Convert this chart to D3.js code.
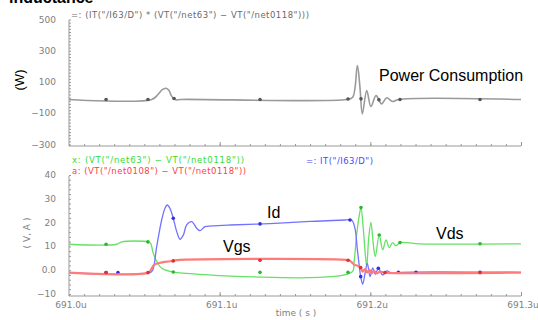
<!DOCTYPE html>
<html>
<head>
<meta charset="utf-8">
<script src="https://cdn.jsdelivr.net/npm/d3@7"></script>
<style>
  body { margin: 0; background: #fff; }
  svg { display: block; }
</style>
</head>
<body>
<div id="chart"></div>
<script>
/// DATA (time in ns after 691.0u)
let powerT = [0, 54.9, 59.1, 61.7, 64.4, 66.4, 67.9, 69.2, 71.5, 73.7, 184.3, 188.3, 191.4, 193.1, 194.7, 197.6, 200.4, 203.8, 207.5, 210.9, 214.8, 218.6, 300];
let powerW = [-12, -12, 20, 49, 60, 45, 13, -3, -15, -12, -12, 2.5, 205, 67, -104, 45, -57, 13, -40, -1, -25, -12, -12];

let vdsT = [0, 31.7, 35.0, 52.6, 54.2, 55.6, 57.7, 60.4, 63.7, 68.2, 70.4, 187.6, 189.2, 190.9, 192.7, 193.8, 195.3, 196.7, 197.6, 198.9, 200.4, 202.0, 203.3, 205.9, 208.2, 210.4, 212.6, 214.8, 217.0, 219.7, 233.0, 300];
let vdsV = [10.9, 10.9, 11.9, 11.9, 11.3, 7.8, 4.3, 1.5, 0.1, -0.6, -0.9, -0.9, 3.6, 14.8, 23.2, 26.3, 17.6, 6.4, 1.5, 13.4, 20.1, 10.6, 5.7, 14.8, 8.5, 12.7, 9.5, 11.6, 10.3, 11.6, 11.1, 11.1];

let idT = [0, 53.8, 55.6, 58.2, 61.5, 63.7, 65.2, 67.0, 69.2, 71.5, 73.7, 75.9, 78.1, 81.4, 84.8, 86.9, 90.2, 94.7, 106.9, 133.4, 160.0, 183.2, 187.6, 189.8, 191.3, 192.7, 193.6, 194.9, 196.5, 198.0, 199.8, 201.6, 203.3, 205.3, 208.2, 210.9, 214.2, 218.6, 300];
let idA = [-1, -1, 0.1, 9.9, 21.1, 26, 27.4, 26, 21.8, 16.2, 13, 14.8, 19, 20.4, 17.6, 16.6, 18.3, 18.6, 19, 19.6, 20.5, 21.1, 21.1, 17.6, 9.2, 1.5, -2.7, -5.9, -1.3, 2.9, -2.7, 1.0, -1.7, 0.8, -2.0, -0.3, -1.3, -0.9, -0.9];

let vgsT = [0, 52.6, 54.9, 56.4, 59.3, 64.8, 69.2, 71.5, 185.4, 186.5, 189.8, 192.0, 193.6, 194.9, 196.5, 198.0, 199.3, 200.9, 202.4, 204.2, 206.4, 209.7, 300];
let vgsV = [-1, -1, 0.8, 2.2, 2.9, 3.6, 3.9, 4.2, 4.2, 3.9, 2.2, 1.8, 1.1, -0.6, 0.5, -0.9, 0.1, -1.3, -0.3, -1.3, -0.6, -1, -1];

// marker times on each trace
let powerMarks = [24.6, 52.4, 69.7, 126.8, 185.2, 193.8, 205.7, 219.7, 272.8];
let vdsMarks = [24.6, 52.4, 69.2, 126.8, 185.2, 193.8, 205.9, 219.7, 272.8];
let vgsMarks = [24.6, 52.4, 69.2, 126.8, 185.2, 193.6, 209.7, 272.8];
let idMarks = [24.6, 32.5, 69.2, 126.8, 186.5, 193.6, 205.3, 218.6, 230.3, 272.8];

let timeTicks = [0, 100, 200, 300];
let timeLabels = ['691.0u', '691.1u', '691.2u', '691.3u'];
let powerTicks = [500, 300, 100, -100, -300];
let powerLabels = ['500', '300', '100', '\u2212100', '\u2212300'];
let vaTicks = [40, 30, 20, 10, 0, -10];
let vaLabels = ['40', '30', '20', '10', '0.0', '\u221210'];

let width = 538, height = 320;
let font = 'DejaVu Sans, sans-serif';
let axisGrey = '#999', labelGrey = '#808080';

/// SETUP scales
let x = d3.scaleLinear().domain([0, 300]).range([69, 521]);
let yTop = d3.scaleLinear().domain([-300, 500]).range([144.5, 19.5]);
let yBot = d3.scaleLinear().domain([-10, 40]).range([294, 175]);

/// CREATE SVG
let svg = d3.select('#chart')
  .append('svg')
  .attr('width', width)
  .attr('height', height)
  .style('background', '#fff');

// heading cut by the top edge, as in the source image
svg.append('text')
  .attr('x', 9).attr('y', 2.5)
  .style('font-family', 'Liberation Sans, Arial, sans-serif')
  .style('font-weight', 'bold')
  .style('font-size', '16px')
  .text('inductance');

/// AXES
function drawFrame(yScale, yTicks, yLabels, minorStep, bottomY, topY, showLabels) {
  let g = svg.append('g');
  // y axis: ticks point inside
  let yAx = d3.axisRight(yScale)
    .tickValues(d3.range(yScale.domain()[0], yScale.domain()[1] + 0.001, minorStep))
    .tickSize(2).tickFormat('');
  g.append('g').attr('transform', 'translate(69,0)').call(yAx)
    .call(s => s.select('.domain').remove())
    .call(s => s.selectAll('line').attr('stroke', axisGrey));
  g.append('line')
    .attr('x1', 69).attr('x2', 69).attr('y1', topY).attr('y2', bottomY)
    .attr('stroke', axisGrey);
  g.selectAll('.ylab')
    .data(yTicks)
    .join('text')
    .attr('class', 'ylab')
    .attr('x', 56)
    .attr('y', d => yScale(d) + 3)
    .attr('text-anchor', 'end')
    .style('font-family', font)
    .style('font-size', '9px')
    .style('fill', labelGrey)
    .text((d, i) => yLabels[i]);

  // x axis: minor ticks every 10ns, pointing up
  let xAx = d3.axisTop(x)
    .tickValues(d3.range(0, 301, 10))
    .tickSize(2).tickFormat('');
  g.append('g').attr('transform', `translate(0,${bottomY})`).call(xAx)
    .call(s => s.select('.domain').remove())
    .call(s => s.selectAll('line').attr('stroke', axisGrey));
  g.append('g').attr('transform', `translate(0,${bottomY})`)
    .call(d3.axisTop(x).tickValues(timeTicks.slice(1)).tickSize(4).tickFormat(''))
    .call(s => s.select('.domain').remove())
    .call(s => s.selectAll('line').attr('stroke', axisGrey));
  g.append('line')
    .attr('x1', 69).attr('x2', 521).attr('y1', bottomY).attr('y2', bottomY)
    .attr('stroke', axisGrey);

  if (showLabels) {
    g.selectAll('.xlab')
      .data(timeTicks)
      .join('text')
      .attr('class', 'xlab')
      .attr('x', d => x(d) + 2)
      .attr('y', bottomY + 12)
      .attr('text-anchor', 'middle')
      .style('font-family', font)
      .style('font-size', '9px')
      .style('fill', labelGrey)
      .text((d, i) => timeLabels[i]);
  }
}

drawFrame(yTop, powerTicks, powerLabels, 20, 146, 20, false);
drawFrame(yBot, vaTicks, vaLabels, 2, 296, 176, true);

/// TRACES
function trace(xs, ys, yScale, color, widthPx, marks, markColor) {
  let pts = xs.map((t, i) => [t, ys[i]]);
  let line = d3.line()
    .x(d => x(d[0]))
    .y(d => yScale(d[1]))
    .curve(d3.curveCatmullRom.alpha(0.5));
  svg.append('path')
    .datum(pts)
    .attr('fill', 'none')
    .attr('stroke', color)
    .attr('stroke-width', widthPx)
    .attr('stroke-linejoin', 'round')
    .attr('d', line);
  // markers sit on the trace
  let interp = t => {
    let i = d3.bisectRight(xs, t) - 1;
    i = Math.max(0, Math.min(xs.length - 2, i));
    let f = (t - xs[i]) / (xs[i + 1] - xs[i]);
    return ys[i] + f * (ys[i + 1] - ys[i]);
  };
  svg.append('g')
    .selectAll('circle')
    .data(marks)
    .join('circle')
    .attr('cx', d => x(d))
    .attr('cy', d => yScale(interp(d)))
    .attr('r', 1.8)
    .attr('fill', markColor);
}

trace(powerT, powerW, yTop, '#9a9a9a', 1.6, powerMarks, '#555');
trace(vdsT, vdsV, yBot, '#66e066', 1.3, vdsMarks, '#2cb82c');
trace(idT, idA, yBot, '#7373ff', 1.3, idMarks, '#3030e0');
trace(vgsT, vgsV, yBot, '#ff7a7a', 2.2, vgsMarks, '#e03030');

/// LEGEND TEXT
let legends = [
  {x: 71, y: 18, w: 238, color: '#6a6a6a', text: '=: (IT("/I63/D") * (VT("/net63") \u2212 VT("/net0118")))'},
  {x: 72, y: 163, w: 172, color: '#33dd33', text: 'x: (VT("/net63") \u2212 VT("/net0118"))'},
  {x: 72, y: 174, w: 174, color: '#ff4040', text: 'a: (VT("/net0108") \u2212 VT("/net0118"))'},
  {x: 306, y: 164, w: 67, color: '#4848ff', text: '=: IT("/I63/D")'}
];
svg.selectAll('.legend')
  .data(legends)
  .join('text')
  .attr('class', 'legend')
  .attr('x', d => d.x)
  .attr('y', d => d.y)
  .attr('textLength', d => d.w)
  .attr('lengthAdjust', 'spacing')
  .style('font-family', font)
  .style('font-size', '8.5px')
  .style('fill', d => d.color)
  .text(d => d.text);

/// AXIS TITLES
svg.append('text')
  .attr('transform', 'translate(24,80) rotate(-90)')
  .attr('text-anchor', 'middle')
  .style('font-family', 'Liberation Sans, Arial, sans-serif')
  .style('font-size', '13px')
  .text('(W)');
svg.append('text')
  .attr('transform', 'translate(30,233) rotate(-90)')
  .attr('text-anchor', 'middle')
  .style('font-family', font)
  .style('font-size', '9px')
  .style('fill', labelGrey)
  .text('( V, A )');
svg.append('text')
  .attr('x', 296).attr('y', 316)
  .attr('text-anchor', 'middle')
  .style('font-family', font)
  .style('font-size', '9px')
  .style('fill', labelGrey)
  .text('time ( s )');

/// ANNOTATIONS
let notes = [
  {x: 379, y: 81, text: 'Power Consumption'},
  {x: 267, y: 218, text: 'Id'},
  {x: 223, y: 252, text: 'Vgs'},
  {x: 436, y: 238.5, text: 'Vds'}
];
svg.selectAll('.note')
  .data(notes)
  .join('text')
  .attr('class', 'note')
  .attr('x', d => d.x)
  .attr('y', d => d.y)
  .style('font-family', 'Liberation Sans, Arial, sans-serif')
  .style('font-size', '16px')
  .style('fill', '#000')
  .text(d => d.text);
</script>
</body>
</html>
